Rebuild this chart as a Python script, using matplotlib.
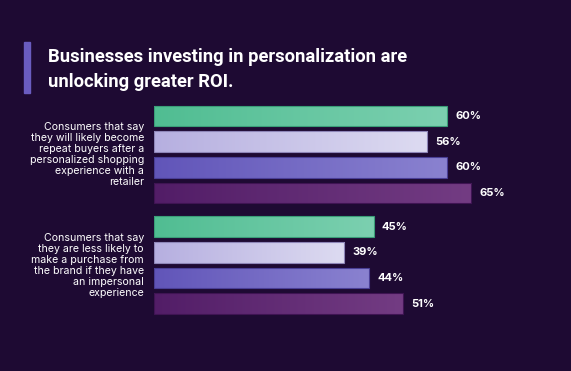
import matplotlib.pyplot as plt
import numpy as np
from matplotlib.colors import LinearSegmentedColormap
from matplotlib.patches import Rectangle

TITLE_LINES = ["Businesses investing in personalization are", "unlocking greater ROI."]
GROUP_LABELS = [
    "Consumers that say\nthey will likely become\nrepeat buyers after a\npersonalized shopping\nexperience with a\nretailer",
    "Consumers that say\nthey are less likely to\nmake a purchase from\nthe brand if they have\nan impersonal\nexperience",
]
SERIES_A = [60, 45]
SERIES_B = [56, 39]
SERIES_C = [60, 44]
SERIES_D = [65, 51]

BG = "#1e0a33"
GRADIENTS = [
    ("#50bd92", "#7cd0b0", "#3a9d78"),
    ("#b6afe0", "#dddbf1", "#8e86b8"),
    ("#6155b9", "#8a82d0", "#4a3f96"),
    ("#521d67", "#733c83", "#3f1453"),
]

W, H = 571, 371
fig = plt.figure(figsize=(W / 100, H / 100), dpi=100, facecolor=BG)

# title + accent bar
fig.patches.append(Rectangle((24 / W, 1 - 93 / H), 6 / W, 51 / H, transform=fig.transFigure,
                             color="#6a5cc0", zorder=1))
for line, ypx in zip(TITLE_LINES, [62, 87]):
    fig.text(48 / W, 1 - ypx / H, line, color="white", fontsize=13.2, fontweight="bold",
             family="Roboto", va="baseline")

px_per_unit = 4.88
x0 = 154
top_px, bot_px = 103.2, 316.5
ax = fig.add_axes([x0 / W, 1 - bot_px / H, (W - x0) / W, (bot_px - top_px) / H])
ax.set_facecolor(BG)
ax.axis("off")

series = [SERIES_A, SERIES_B, SERIES_C, SERIES_D]
group_gap = 1.3
grad = np.linspace(0, 1, 256).reshape(1, -1)
for gi, label in enumerate(GROUP_LABELS):
    base = gi * (3 + group_gap)
    for si, vals in enumerate(series):
        y = base + si
        c0, c1, edge = GRADIENTS[si]
        bar = ax.barh(y, vals[gi], height=0.8, color="none", edgecolor=edge, linewidth=0.8, zorder=3)[0]
        cmap = LinearSegmentedColormap.from_list(f"g{si}", [c0, c1])
        im = ax.imshow(grad, cmap=cmap, aspect="auto", zorder=2,
                       extent=(0, vals[gi], y + 0.4, y - 0.4), interpolation="bicubic")
        im.set_clip_path(bar)
        ax.annotate(f"{vals[gi]}%", (vals[gi], y), xytext=(6, 0), textcoords="offset points",
                    color="white", fontsize=8, fontweight="bold", family="Inter",
                    ha="left", va="center")
    ax.annotate(label, (0, base + 1.5), xytext=(-7.2, 0), textcoords="offset points",
                color="white", fontsize=7.6, family="Inter", ha="right", va="center",
                multialignment="right", linespacing=1.12)

ax.set_xlim(0, (W - x0) / px_per_unit)
ax.set_ylim(7.8, -0.5)

fig.savefig("out.png", dpi=100, facecolor=BG)
